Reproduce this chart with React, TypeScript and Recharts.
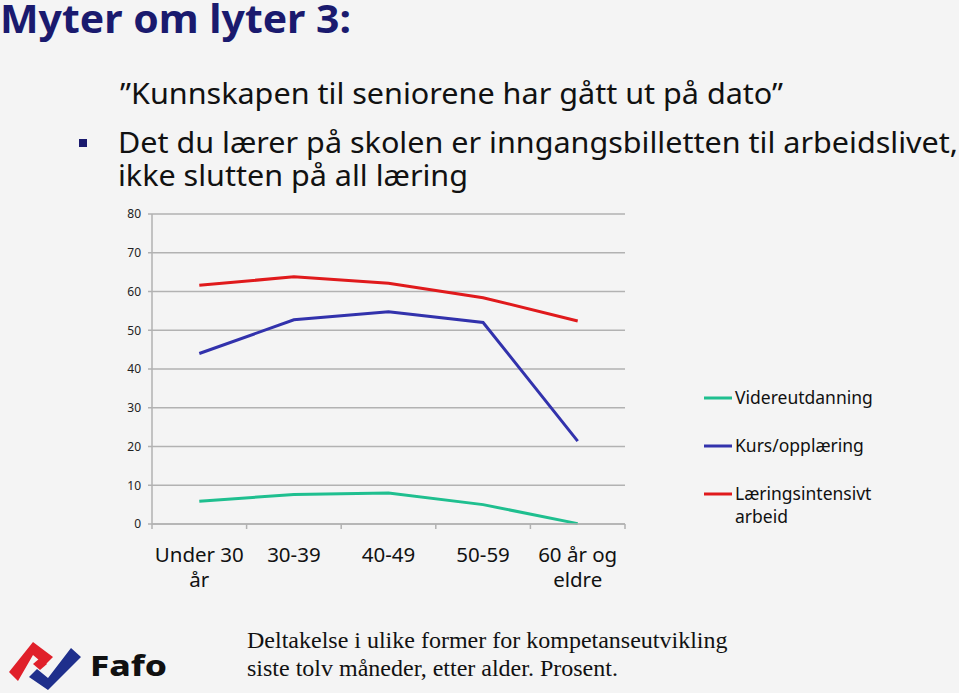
import { LineChart, Line, XAxis, YAxis, CartesianGrid } from 'recharts';

const groups = ['Under 30\når', '30-39', '40-49', '50-59', '60 år og\neldre'];
const videreutdanning = [5.9, 7.6, 8.0, 5.0, 0.1];
const kursOpplaering = [44.0, 52.7, 54.8, 52.0, 21.4];
const laeringsintensivt = [61.6, 63.8, 62.1, 58.4, 52.4];
const yTicks = [0, 10, 20, 30, 40, 50, 60, 70, 80];

const series = [
  { key: 'videreutdanning', name: 'Videreutdanning', color: '#1fbf8f' },
  { key: 'kurs', name: 'Kurs/opplæring', color: '#3232ac' },
  { key: 'laering', name: 'Læringsintensivt\narbeid', color: '#e01a1c' },
];

// each group sits in the middle of its slot on a 0..n numeric axis
const data = groups.map((group, i) => ({
  group,
  pos: i + 0.5,
  videreutdanning: videreutdanning[i],
  kurs: kursOpplaering[i],
  laering: laeringsintensivt[i],
}));

const edgeTicks = groups.map((_, i) => i).concat(groups.length);
const centerTicks = data.map((d) => d.pos);

const sans = '"Noto Sans", "Open Sans", sans-serif';
const serif = '"Liberation Serif", "DejaVu Serif", serif';
const navy = '#1a1a6e';
const grid = '#b2b2b2';

function GroupTick({ x, y, payload }: any) {
  const label = groups[Math.floor(payload.value)] ?? '';
  const lines = label.split('\n');
  return (
    <text x={x} y={y} textAnchor="middle" fontFamily={sans} fontSize={20.5} fill="#111">
      {lines.map((l, i) => (
        <tspan key={i} x={x} dy={i === 0 ? 24 : 25}>{l}</tspan>
      ))}
    </text>
  );
}

export default function App() {
  return (
    <div style={{ position: 'absolute', left: 0, top: 0, width: 959, height: 693, background: '#f4f4f4', overflow: 'hidden' }}>
      <svg width={959} height={693} style={{ position: 'absolute', left: 0, top: 0 }}>
        <text x={0} y={33} fontFamily={sans} fontWeight={700} fontSize={40} fill={navy} textLength={351} lengthAdjust="spacingAndGlyphs">Myter om lyter 3:</text>
        <text x={120} y={104} fontFamily={sans} fontSize={28.5} fill="#111" textLength={663} lengthAdjust="spacingAndGlyphs">”Kunnskapen til seniorene har gått ut på dato”</text>
        <rect x={79} y={139} width={8} height={8} fill={navy} />
        <text x={118} y={153} fontFamily={sans} fontSize={28.5} fill="#111" textLength={840} lengthAdjust="spacingAndGlyphs">Det du lærer på skolen er inngangsbilletten til arbeidslivet,</text>
        <text x={118} y={186} fontFamily={sans} fontSize={28.5} fill="#111" textLength={350} lengthAdjust="spacingAndGlyphs">ikke slutten på all læring</text>

        {series.map((s, i) => (
          <g key={s.key}>
            <line x1={704} x2={732} y1={398 + i * 48} y2={398 + i * 48} stroke={s.color} strokeWidth={3} />
            <text x={735} y={404 + i * 48} fontFamily={sans} fontSize={17.5} fill="#111">
              {s.name.split('\n').map((l, j) => (
                <tspan key={j} x={735} dy={j === 0 ? 0 : 23}>{l}</tspan>
              ))}
            </text>
          </g>
        ))}

        <polygon points="9,672 33,642 53,657 45,665 33,655 18,681" fill="#e0202a" />
        <polygon points="33,664 40,658 47,664 40,670" fill="#e0202a" />
        <polygon points="29,677 37,669 48,678 71,648 81,657 48,690" fill="#1f2f8c" />
        <text x={90} y={676} fontFamily={sans} fontWeight={800} fontSize={28} fill="#111" textLength={77} lengthAdjust="spacingAndGlyphs">Fafo</text>

        <text x={247} y={648} fontFamily={serif} fontSize={24} fill="#111">Deltakelse i ulike former for kompetanseutvikling</text>
        <text x={247} y={676} fontFamily={serif} fontSize={24} fill="#111">siste tolv måneder, etter alder. Prosent.</text>
      </svg>

      <div style={{ position: 'absolute', left: 0, top: 0 }}>
        <LineChart width={959} height={693} data={data} margin={{ top: 214, right: 334, bottom: 0, left: 0 }}>
          <CartesianGrid xAxisId="edge" vertical={false} stroke={grid} strokeWidth={1.5} />
          <XAxis
            xAxisId="lbl"
            type="number"
            dataKey="pos"
            domain={[0, groups.length]}
            ticks={centerTicks}
            height={163}
            axisLine={false}
            tickLine={false}
            interval={0}
            tick={<GroupTick />}
          />
          <XAxis
            xAxisId="edge"
            type="number"
            dataKey="pos"
            domain={[0, groups.length]}
            ticks={edgeTicks}
            interval={0}
            tickFormatter={() => ''}
            height={6}
            tickSize={5}
            axisLine={{ stroke: grid, strokeWidth: 1.5 }}
            tickLine={{ stroke: grid, strokeWidth: 1.5 }}
          />
          <YAxis
            domain={[0, 80]}
            ticks={yTicks}
            width={152}
            tickSize={4}
            tickMargin={7}
            axisLine={{ stroke: grid, strokeWidth: 1.5 }}
            tickLine={{ stroke: grid, strokeWidth: 1.5 }}
            tick={{ fill: '#222', fontSize: 12, fontFamily: sans }}
          />
          {series.map((s) => (
            <Line
              key={s.key}
              xAxisId="edge"
              type="linear"
              dataKey={s.key}
              stroke={s.color}
              strokeWidth={3}
              dot={false}
              isAnimationActive={false}
            />
          ))}
        </LineChart>
      </div>
    </div>
  );
}
